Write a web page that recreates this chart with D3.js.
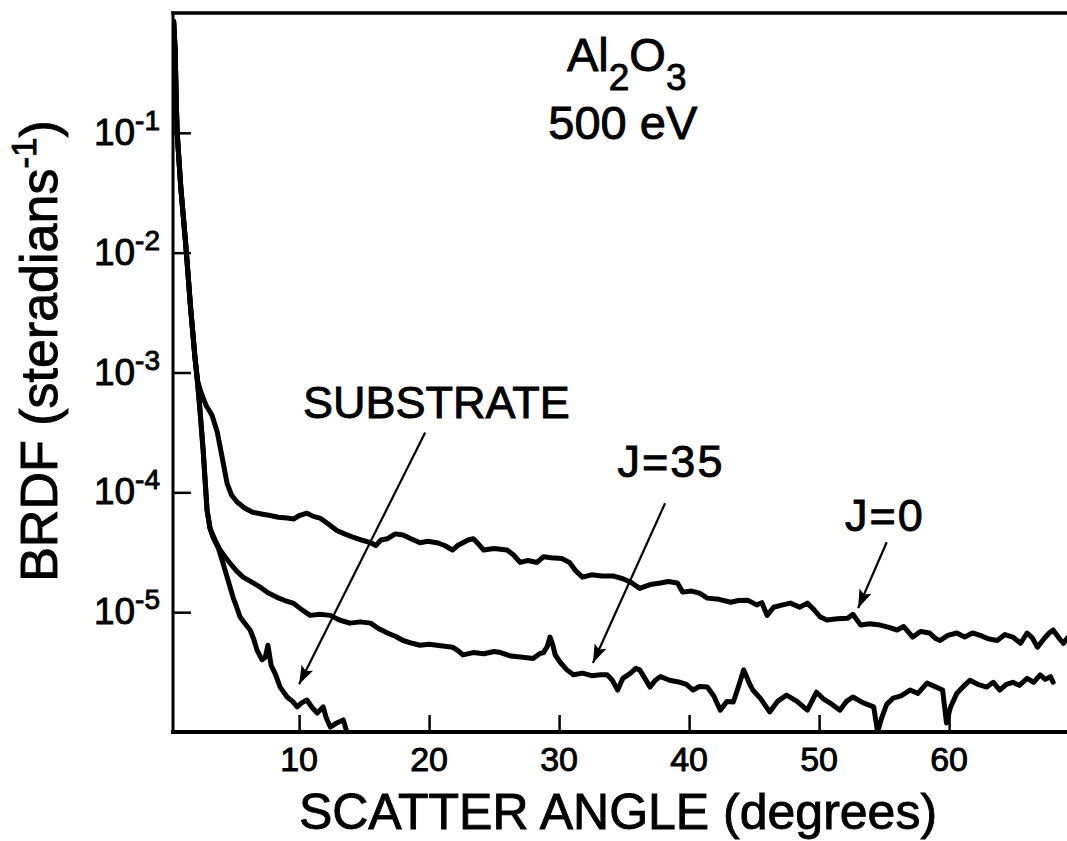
<!DOCTYPE html>
<html>
<head>
<meta charset="utf-8">
<script src="https://cdn.jsdelivr.net/npm/d3@7"></script>
<style>
  html, body { margin: 0; padding: 0; background: #fff; }
  svg { display: block; }
  text { font-family: "Liberation Sans", Arial, Helvetica, sans-serif; fill: #000; stroke: #000; stroke-width: 0.9; }
</style>
</head>
<body>
<svg id="chart" width="1067" height="841"></svg>
<script>
// Steep specular peak shared by all three scans near 0 degrees
const headAngle = [0.35, 0.46, 0.55, 0.62, 0.9, 1.3, 1.65, 2.0];
const headBrdf  = [0.85, 0.5, 0.18, 0.1, 0.035, 0.011, 3.5e-3, 1.3e-3];

// Lower pair (J=35 and substrate) before they separate
const lowAngle = [2.2, 2.38, 2.62, 2.77, 2.92, 3.15];
const lowBrdf  = [8.0e-4, 4.8e-4, 2.24e-4, 1.26e-4, 7.1e-5, 5.0e-5];

// J=0 coating
const j0Angle = [2.2, 2.4, 2.85, 3.3, 3.7, 4.08, 4.46, 4.8, 5.23, 5.8, 6.46, 7.1, 7.77, 8.4, 9.08, 9.6,
  10.0, 10.6, 11.1, 11.6, 12.2, 12.9, 13.5, 14.2, 14.8, 15.5, 15.9, 16.3, 16.8, 17.4, 18.0, 18.6, 19.3,
  19.9, 20.6, 21.2, 21.8, 22.2, 22.6, 23.0, 23.4, 23.8, 24.2, 25.0, 26.0, 26.5, 27.0, 27.6, 28.3, 28.8,
  29.4, 30.2, 30.8, 31.3, 31.8, 32.5, 33.3, 34.2, 34.9, 35.5, 36.2, 37.0, 37.8, 38.4, 39.1, 39.5, 40.2,
  40.8, 41.4, 42.3, 43.2, 43.8, 44.5, 45.2, 45.6, 46.0, 46.5, 47.2, 47.8, 48.5, 49.1, 49.6, 50.1, 50.6,
  51.4, 52.2, 52.6, 53.2, 53.9, 54.7, 55.3, 56.0, 56.5, 57.2, 57.8, 58.5, 59.0, 59.3, 59.9, 60.6, 61.2,
  61.8, 62.4, 63.0, 63.7, 64.3, 64.9, 65.5, 66.0, 66.4, 66.8, 67.3, 67.7, 68.0, 68.4, 68.8, 69.1];
const j0Brdf = [8.5e-4, 7.1e-4, 5.3e-4, 4.4e-4, 3.2e-4, 1.96e-4, 1.19e-4, 9.5e-5, 8.3e-5, 7.4e-5, 6.8e-5, 6.6e-5, 6.4e-5, 6.2e-5, 6.1e-5, 6.0e-5,
  6.4e-5, 6.7e-5, 6.3e-5, 6.1e-5, 5.5e-5, 4.8e-5, 4.5e-5, 4.2e-5, 4.0e-5, 3.8e-5, 3.6e-5, 4.0e-5, 4.1e-5, 4.5e-5, 4.4e-5, 4.1e-5, 3.8e-5,
  3.9e-5, 3.8e-5, 3.6e-5, 3.3e-5, 3.6e-5, 3.8e-5, 4.0e-5, 4.1e-5, 3.7e-5, 3.3e-5, 3.4e-5, 3.3e-5, 3.0e-5, 2.6e-5, 2.7e-5, 2.6e-5, 2.9e-5,
  2.85e-5, 2.8e-5, 2.6e-5, 2.2e-5, 1.96e-5, 2.05e-5, 2.0e-5, 2.0e-5, 1.9e-5, 1.78e-5, 1.58e-5, 1.7e-5, 1.75e-5, 1.8e-5, 1.75e-5, 1.47e-5, 1.5e-5,
  1.44e-5, 1.31e-5, 1.28e-5, 1.21e-5, 1.25e-5, 1.26e-5, 1.15e-5, 1.2e-5, 9.4e-6, 1.1e-5, 1.15e-5, 1.19e-5, 1.1e-5, 1.19e-5, 1.05e-5, 9.1e-6, 8.6e-6,
  8.8e-6, 8.9e-6, 9.6e-6, 7.8e-6, 8.0e-6, 7.8e-6, 7.5e-6, 7.1e-6, 7.6e-6, 6.2e-6, 6.9e-6, 6.7e-6, 6.0e-6, 5.8e-6, 6.4e-6, 6.7e-6, 6.2e-6,
  6.7e-6, 6.4e-6, 6.0e-6, 5.8e-6, 6.5e-6, 6.2e-6, 5.5e-6, 6.7e-6, 6.1e-6, 5.1e-6, 6.0e-6, 6.7e-6, 7.1e-6, 6.2e-6, 5.5e-6, 6.1e-6];

// J=35 coating
const j35Angle = [3.54, 3.92, 4.3, 4.69, 5.2, 5.69, 6.3, 7.0, 7.6, 8.3, 8.9, 9.54, 10.2, 10.85, 11.6, 12.4, 13.1,
  13.9, 14.7, 15.5, 16.1, 16.8, 17.4, 18.0, 18.7, 19.3, 20.0, 20.6, 21.2, 21.8, 22.3, 22.6, 23.4, 24.2, 25.0,
  25.5, 26.3, 27.2, 28.0, 28.5, 28.8, 29.1, 29.3, 29.5, 29.7, 30.1, 30.6, 31.1, 31.8, 32.5, 33.2, 33.7, 34.1,
  34.5, 34.9, 35.5, 35.9, 36.2, 36.6, 37.0, 37.4, 37.8, 38.5, 39.3, 39.8, 40.3, 40.8, 41.4, 41.9, 42.4, 42.9,
  43.4, 43.8, 44.2, 44.6, 44.9, 45.5, 46.2, 46.8, 47.5, 48.3, 49.1, 49.8, 50.3, 51.0, 51.6, 52.1, 52.6, 53.4,
  54.2, 54.5, 54.8, 55.2, 55.7, 56.3, 57.0, 57.6, 58.3, 58.9, 59.5, 59.8, 60.1, 60.6, 61.1, 61.6, 62.2, 62.9,
  63.4, 63.9, 64.4, 64.9, 65.4, 66.0, 66.5, 67.0, 67.4, 67.8, 68.0];
const j35Brdf = [4.0e-5, 3.3e-5, 2.9e-5, 2.56e-5, 2.2e-5, 1.96e-5, 1.8e-5, 1.62e-5, 1.45e-5, 1.33e-5, 1.25e-5, 1.19e-5, 1.05e-5, 9.4e-6, 9.6e-6, 9.4e-6, 8.6e-6,
  8.1e-6, 8.3e-6, 8.1e-6, 7.3e-6, 6.7e-6, 6.3e-6, 5.8e-6, 5.5e-6, 5.3e-6, 5.4e-6, 5.3e-6, 5.2e-6, 5.1e-6, 4.7e-6, 4.4e-6, 4.6e-6, 4.5e-6, 4.7e-6,
  4.6e-6, 4.3e-6, 4.2e-6, 4.1e-6, 4.5e-6, 4.6e-6, 5.2e-6, 6.2e-6, 5.4e-6, 4.4e-6, 3.8e-6, 3.3e-6, 3.0e-6, 3.1e-6, 2.95e-6, 3.0e-6, 3.0e-6, 2.7e-6,
  2.24e-6, 2.8e-6, 3.1e-6, 3.4e-6, 3.3e-6, 2.8e-6, 2.37e-6, 2.7e-6, 2.9e-6, 2.7e-6, 2.6e-6, 2.5e-6, 2.24e-6, 2.4e-6, 2.37e-6, 2.0e-6, 1.52e-6, 1.8e-6,
  1.78e-6, 2.4e-6, 3.3e-6, 2.6e-6, 2.24e-6, 1.9e-6, 1.47e-6, 1.8e-6, 2.03e-6, 1.8e-6, 1.52e-6, 2.15e-6, 1.9e-6, 1.7e-6, 1.52e-6, 1.8e-6, 1.96e-6, 1.75e-6,
  1.62e-6, 1.0e-6, 1.3e-6, 1.7e-6, 1.92e-6, 2.0e-6, 2.24e-6, 2.1e-6, 2.56e-6, 2.4e-6, 2.24e-6, 1.19e-6, 1.6e-6, 2.11e-6, 2.4e-6, 2.7e-6, 2.5e-6, 2.37e-6,
  2.6e-6, 2.24e-6, 2.5e-6, 2.6e-6, 2.45e-6, 2.8e-6, 2.6e-6, 3.0e-6, 2.75e-6, 2.9e-6, 2.6e-6];

// Uncoated substrate
const subAngle = [3.38, 3.8, 4.15, 4.5, 4.92, 5.2, 5.46, 5.85, 6.23, 6.5, 6.77, 7.15, 7.4, 7.6, 7.85, 8.2, 8.54,
  9.08, 9.5, 9.85, 10.2, 10.6, 11.0, 11.4, 11.85, 12.1, 12.4, 12.9, 13.4, 13.8];
const subBrdf = [4.2e-5, 3.4e-5, 2.56e-5, 1.9e-5, 1.33e-5, 1.1e-5, 9.1e-6, 8.0e-6, 7.1e-6, 6.0e-6, 4.8e-6, 4.0e-6, 4.2e-6, 5.3e-6, 3.6e-6, 3.0e-6, 2.37e-6,
  1.96e-6, 1.8e-6, 1.62e-6, 1.75e-6, 1.85e-6, 1.6e-6, 1.44e-6, 1.62e-6, 1.3e-6, 1.1e-6, 1.19e-6, 1.26e-6, 0.9e-6];

const xTicks = [10, 20, 30, 40, 50, 60];
const yTicks = [1e-1, 1e-2, 1e-3, 1e-4, 1e-5];

const svg = d3.select("#chart");
const plotLeft = 173, plotTop = 13, plotBottom = 732;

const x = d3.scaleLinear().domain([0.3, 70]).range([plotLeft, plotLeft + 69.7 * 13]);
const y = d3.scaleLog().domain([1e-6, 1]).range([plotBottom, plotTop]);

const pts = (a, b) => a.map((d, i) => [d, b[i]]);
const j0 = [...pts(headAngle, headBrdf), ...pts(j0Angle, j0Brdf)];
const j35 = [...pts(headAngle, headBrdf), ...pts(lowAngle, lowBrdf), ...pts(j35Angle, j35Brdf)];
const sub = [...pts(headAngle, headBrdf), ...pts(lowAngle, lowBrdf), ...pts(subAngle, subBrdf)];

const defs = svg.append("defs");
defs.append("clipPath").attr("id", "plotClip")
  .append("rect").attr("x", plotLeft).attr("y", plotTop)
  .attr("width", x(70) - plotLeft).attr("height", plotBottom - plotTop);

const line = d3.line().x(d => x(d[0])).y(d => y(d[1]));
const curves = svg.append("g").attr("clip-path", "url(#plotClip)");
[sub, j35, j0].forEach(s => {
  curves.append("path").datum(s).attr("d", line)
    .attr("fill", "none").attr("stroke", "#000")
    .attr("stroke-width", 5).attr("stroke-linejoin", "round").attr("stroke-linecap", "round");
});

// Frame: left, top and bottom edges
const frame = svg.append("g").attr("stroke", "#000").attr("fill", "none").attr("stroke-linecap", "square");
frame.append("line").attr("x1", plotLeft).attr("x2", x(70)).attr("y1", plotTop).attr("y2", plotTop).attr("stroke-width", 3.5);
frame.append("line").attr("x1", plotLeft).attr("x2", plotLeft).attr("y1", plotTop).attr("y2", plotBottom).attr("stroke-width", 3);
frame.append("line").attr("x1", plotLeft).attr("x2", x(70)).attr("y1", plotBottom).attr("y2", plotBottom).attr("stroke-width", 4);

// Inward ticks
const xAxis = d3.axisTop(x).tickValues(xTicks).tickSizeInner(17).tickSizeOuter(0).tickFormat("");
const gx = svg.append("g").attr("transform", `translate(0,${plotBottom})`).call(xAxis);
gx.select(".domain").remove();
gx.selectAll(".tick line").attr("stroke", "#000").attr("stroke-width", 2.5);

const yAxis = d3.axisRight(y).tickValues(yTicks).tickSizeInner(18).tickSizeOuter(0).tickFormat("");
const gy = svg.append("g").attr("transform", `translate(${plotLeft},0)`).call(yAxis);
gy.select(".domain").remove();
gy.selectAll(".tick line").attr("stroke", "#000").attr("stroke-width", 2.5);

// X tick labels
svg.append("g").selectAll("text").data(xTicks).join("text")
  .attr("x", d => x(d)).attr("y", plotBottom + 39)
  .attr("text-anchor", "middle").attr("font-size", 34).text(d => d);

// Y tick labels as powers of ten
const yl = svg.append("g").selectAll("text").data(yTicks).join("text")
  .attr("x", 160).attr("y", d => y(d) + 12)
  .attr("text-anchor", "end").attr("font-size", 37);
yl.append("tspan").text("10");
yl.append("tspan").attr("font-size", 28).attr("dy", -15)
  .text(d => "-" + Math.round(-Math.log10(d)));

// Axis titles
svg.append("text").attr("x", 618).attr("y", 829).attr("text-anchor", "middle")
  .attr("font-size", 50).text("SCATTER ANGLE (degrees)");

const yt = svg.append("text").attr("transform", "translate(57,351) rotate(-90)")
  .attr("text-anchor", "middle").attr("font-size", 52);
yt.append("tspan").text("BRDF (steradians");
yt.append("tspan").attr("font-size", 35).attr("dy", -21).text("-1");
yt.append("tspan").attr("dy", 21).text(")");

// Sample and beam energy
const t1 = svg.append("text").attr("x", x(35.2)).attr("y", y(0.33))
  .attr("text-anchor", "middle").attr("font-size", 47);
t1.append("tspan").text("Al");
t1.append("tspan").attr("font-size", 37).attr("dy", 19).text("2");
t1.append("tspan").attr("dy", -19).text("O");
t1.append("tspan").attr("font-size", 37).attr("dy", 19).text("3");
svg.append("text").attr("x", x(34.9)).attr("y", y(0.089))
  .attr("text-anchor", "middle").attr("font-size", 47).text("500 eV");

// Curve labels with arrows
const labels = [
  { text: "SUBSTRATE", lx: 10.3, ly: 4.14e-4, ax: 19.7, ay: 3.16e-4, bx: 10.0, by: 2.5e-6 },
  { text: "J=35", lx: 34.5, ly: 1.33e-4, ax: 38.15, ay: 8.1e-5, bx: 32.6, by: 3.76e-6 },
  { text: "J=0", lx: 52.0, ly: 4.8e-5, ax: 55.2, ay: 3.83e-5, bx: 53.0, by: 1.08e-5 }
];

defs.append("marker").attr("id", "head")
  .attr("viewBox", "0 0 20 14").attr("refX", 20).attr("refY", 7)
  .attr("markerUnits", "userSpaceOnUse").attr("markerWidth", 20).attr("markerHeight", 13)
  .attr("orient", "auto")
  .append("path").attr("d", "M0,0 L20,7 L0,14 L4,7 Z").attr("fill", "#000");

labels.forEach(l => {
  svg.append("text").attr("x", x(l.lx)).attr("y", y(l.ly))
    .attr("font-size", 45).attr("letter-spacing", l.text === "SUBSTRATE" ? 0 : 2).text(l.text);
  svg.append("line").attr("x1", x(l.ax)).attr("y1", y(l.ay)).attr("x2", x(l.bx)).attr("y2", y(l.by))
    .attr("stroke", "#000").attr("stroke-width", 2.2).attr("marker-end", "url(#head)");
});
</script>
</body>
</html>
